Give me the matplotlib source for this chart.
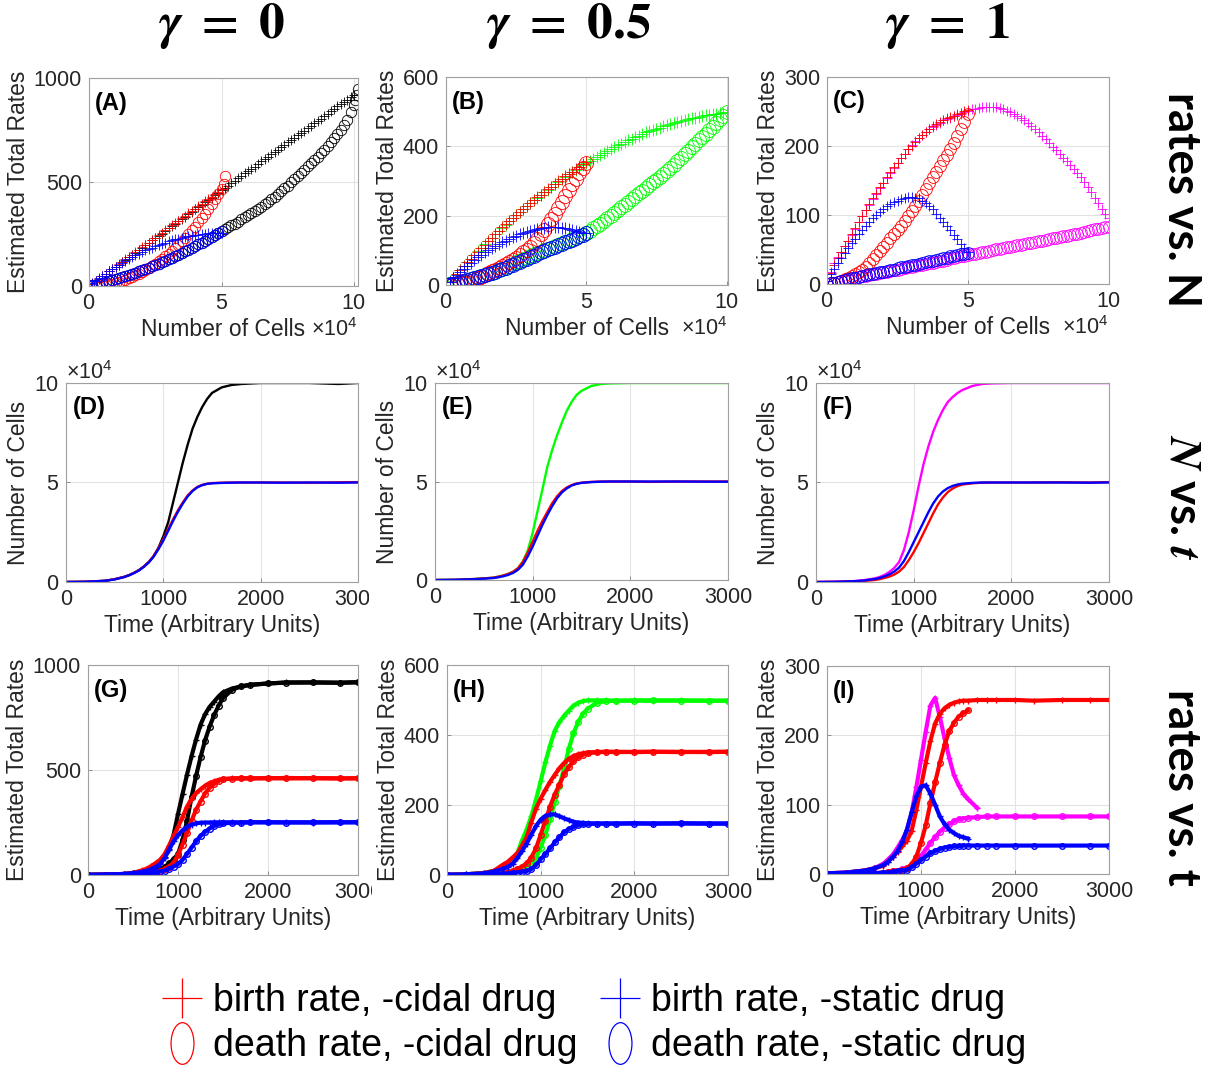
import matplotlib
matplotlib.use("Agg")
import matplotlib.pyplot as plt
from matplotlib.lines import Line2D
from matplotlib.path import Path
from matplotlib.transforms import Affine2D, Bbox, TransformedBbox
from matplotlib.ticker import ScalarFormatter
import numpy as np

plt.rcParams["font.family"] = "Liberation Sans"
plt.rcParams["mathtext.fontset"] = "custom"
plt.rcParams["mathtext.rm"] = "Liberation Sans"
plt.rcParams["mathtext.it"] = "Liberation Sans:italic"
plt.rcParams["mathtext.bf"] = "Liberation Sans:bold"

RED, BLUE = "#ff0000", "#0000ff"
BLACK, GREEN, MAGENTA = "#000000", "#00ff00", "#ff00ff"
TXT = "#262626"

# ---------------- rates vs. number of cells (cells in units of 1e4) ----------------
cells_half = [0, 0.125, 0.25, 0.375, 0.5, 0.625, 0.75, 0.875, 1.0, 1.125, 1.25, 1.375,
              1.5, 1.625, 1.75, 1.875, 2.0, 2.125, 2.25, 2.375, 2.5, 2.625, 2.75, 2.875,
              3.0, 3.125, 3.25, 3.375, 3.5, 3.625, 3.75, 3.875, 4.0, 4.125, 4.25, 4.375,
              4.5, 4.625, 4.75, 4.875, 5.0]
cells_full = cells_half + [5.125, 5.25, 5.375, 5.5, 5.625, 5.75, 5.875, 6.0, 6.125, 6.25,
                           6.375, 6.5, 6.625, 6.75, 6.875, 7.0, 7.125, 7.25, 7.375, 7.5,
                           7.625, 7.75, 7.875, 8.0, 8.125, 8.25, 8.375, 8.5, 8.625, 8.75,
                           8.875, 9.0, 9.125, 9.25, 9.375, 9.5, 9.625, 9.75, 9.875, 10.0]

# gamma = 0
a_birth_none = [0, 12, 24, 35, 46, 58, 70, 81, 92, 103, 114, 127, 139, 149, 160, 173, 185,
                195, 206, 219, 231, 241, 252, 265, 277, 287, 298, 311, 323, 333, 344, 357,
                369, 379, 390, 403, 415, 425, 436, 449, 461, 471, 482, 495, 507, 517, 528,
                541, 553, 563, 574, 587, 599, 609, 620, 633, 645, 655, 666, 679, 691, 701,
                712, 725, 737, 747, 758, 771, 783, 793, 804, 817, 829, 839, 850, 863, 875,
                885, 896, 908, 920]
a_death_none = [0, 3, 7, 11, 15, 19, 24, 28, 33, 38, 43, 48, 53, 58, 64, 70, 76, 82, 88, 94,
                101, 107, 114, 121, 129, 136, 143, 151, 159, 167, 175, 183, 192, 200, 209,
                218, 227, 236, 246, 254, 263, 273, 283, 291, 300, 310, 320, 330, 340, 350,
                360, 370, 381, 392, 403, 416, 430, 443, 456, 469, 483, 498, 513, 529, 545,
                560, 575, 590, 605, 621, 638, 655, 672, 691, 710, 731, 752, 776, 800, 835,
                870]
a_death_none_tail_cells = [10.05, 10.1, 10.15]
a_death_none_tail = [895, 920, 945]
a_birth_cidal = [0, 12, 23, 35, 47, 58, 70, 82, 93, 105, 116, 128, 140, 151, 163, 175, 186,
                 198, 209, 221, 233, 244, 256, 268, 279, 291, 302, 314, 326, 337, 349, 361,
                 372, 384, 395, 407, 419, 430, 442, 453, 465]
a_death_cidal = [0, 0, 1, 2, 4, 6, 9, 12, 16, 20, 25, 31, 37, 44, 51, 59, 67, 76, 86, 96,
                 107, 118, 130, 143, 156, 170, 184, 199, 215, 232, 249, 267, 286, 306, 326,
                 348, 370, 393, 416, 440, 465]
a_death_cidal_tail_cells = [5.1, 5.15]
a_death_cidal_tail = [490, 528]
a_birth_static = [0, 13, 25, 37, 49, 60, 71, 82, 92, 102, 112, 121, 130, 139, 147, 155, 163,
                  171, 178, 185, 191, 197, 203, 209, 214, 219, 224, 228, 232, 236, 239, 242,
                  245, 247, 249, 251, 253, 254, 254, 255, 255]
a_death_static = [0, 3, 7, 11, 15, 19, 24, 28, 33, 38, 43, 48, 53, 58, 64, 70, 76, 82, 88,
                  94, 101, 107, 114, 121, 129, 136, 143, 151, 159, 167, 175, 183, 192, 200,
                  209, 218, 227, 236, 246, 255, 265]

# gamma = 0.5
b_birth_none = [0, 11, 22, 33, 44, 55, 66, 76, 87, 97, 107, 117, 127, 136, 146, 155, 165,
                174, 184, 193, 202, 210, 219, 227, 236, 244, 252, 260, 268, 275, 283, 290,
                298, 305, 312, 319, 326, 332, 339, 345, 352, 358, 364, 370, 376, 381, 387,
                392, 398, 403, 408, 413, 418, 422, 427, 431, 435, 440, 444, 447, 451, 454,
                458, 461, 465, 468, 471, 473, 476, 478, 481, 483, 486, 488, 490, 491, 493,
                494, 496, 497, 499]
b_death_none = [0, 2, 4, 6, 8, 10, 13, 16, 19, 22, 25, 28, 31, 34, 38, 42, 46, 50, 55, 60,
                65, 70, 74, 79, 83, 88, 92, 96, 100, 104, 108, 112, 116, 120, 124, 128, 132,
                136, 140, 145, 150, 156, 163, 170, 177, 184, 192, 200, 208, 216, 224, 232,
                240, 248, 256, 264, 272, 280, 288, 296, 304, 312, 320, 329, 338, 347, 357,
                367, 377, 387, 397, 407, 417, 427, 437, 447, 457, 467, 478, 488, 499]
b_birth_cidal = [0, 10, 21, 32, 43, 54, 65, 75, 86, 96, 106, 116, 126, 136, 146, 156, 166,
                 175, 185, 194, 203, 212, 220, 228, 237, 245, 253, 261, 269, 276, 284, 291,
                 299, 306, 313, 320, 327, 334, 341, 348, 355]
b_death_cidal = [0, 1, 2, 3, 5, 7, 9, 12, 15, 19, 24, 29, 34, 39, 44, 49, 55, 60, 66, 72,
                 79, 86, 94, 102, 111, 122, 134, 147, 160, 175, 190, 206, 222, 240, 257, 274,
                 290, 306, 322, 337, 352]
b_birth_static = [0, 10, 20, 29, 38, 47, 56, 64, 72, 80, 87, 94, 100, 106, 112, 118, 123,
                  128, 133, 138, 142, 146, 150, 153, 156, 159, 161, 163, 165, 166, 167, 167,
                  166, 165, 163, 161, 158, 156, 153, 151, 150]
b_death_static = [0, 2, 4, 6, 9, 11, 14, 16, 19, 22, 25, 28, 31, 34, 38, 42, 46, 50, 54, 58,
                  63, 67, 72, 76, 81, 85, 90, 94, 99, 103, 107, 111, 115, 119, 123, 127, 131,
                  135, 140, 144, 149]

# gamma = 1
c_birth_none = [5, 18, 30, 39, 47, 55, 62, 71, 80, 90, 99, 107, 115, 123, 131, 139, 146,
                154, 161, 168, 175, 182, 189, 195, 201, 207, 212, 216, 220, 224, 228, 231,
                234, 237, 239, 241, 243, 245, 247, 249, 251, 253, 254, 255, 256, 257, 257,
                257, 256, 255, 253, 251, 249, 247, 244, 241, 237, 233, 229, 225, 220, 215,
                210, 205, 199, 194, 188, 183, 178, 173, 167, 161, 155, 148, 141, 133, 125,
                117, 109, 102, 95]
c_death_none = [0, 1, 2, 3, 4, 5, 6, 8, 9, 10, 11, 12, 13, 14, 15, 16, 17, 18, 19, 20, 21,
                22, 23, 24, 25, 26, 27, 28, 29, 30, 31, 32, 33, 34, 35, 37, 38, 39, 40, 41,
                42, 43, 44, 45, 46, 47, 48, 49, 50, 51, 52, 53, 54, 55, 56, 57, 58, 59, 60,
                61, 62, 63, 64, 65, 66, 67, 68, 69, 70, 71, 72, 73, 74, 76, 77, 78, 79, 80,
                81, 82, 83]
c_birth_cidal = [5, 16, 28, 37, 46, 55, 63, 72, 81, 90, 98, 107, 116, 124, 132, 140, 147,
                 155, 162, 169, 176, 183, 189, 195, 200, 206, 211, 216, 221, 225, 229, 232,
                 235, 238, 240, 242, 244, 246, 248, 250, 252]
c_death_cidal = [0, 1, 2, 3, 5, 7, 9, 11, 14, 17, 20, 25, 30, 36, 42, 48, 54, 60, 66, 72,
                 78, 84, 91, 98, 106, 113, 121, 129, 138, 146, 155, 163, 171, 179, 187, 195,
                 204, 214, 224, 235, 247]
c_birth_static = [5, 14, 22, 30, 38, 45, 52, 59, 65, 72, 78, 84, 90, 95, 100, 105, 109, 113,
                  116, 119, 121, 123, 125, 126, 126, 125, 124, 121, 118, 113, 108, 102, 96,
                  90, 84, 78, 71, 65, 58, 52, 46]
c_death_static = [0, 1, 2, 3, 5, 6, 7, 8, 9, 10, 11, 13, 14, 15, 16, 17, 18, 19, 20, 21, 23,
                  24, 25, 26, 27, 28, 29, 31, 32, 33, 34, 35, 36, 37, 38, 40, 41, 42, 43, 44,
                  45]

# ---------------- time courses ----------------
time = [0, 200, 400, 500, 600, 650, 700, 750, 800, 850, 900, 950, 1000, 1050, 1100, 1150,
        1200, 1250, 1300, 1350, 1400, 1450, 1500, 1600, 1700, 1800, 2000, 2200, 2500,
        2800, 3000]

# number of cells (1e4)
d_none = [0, 0.01, 0.06, 0.14, 0.26, 0.35, 0.46, 0.6, 0.78, 1.0, 1.3, 1.72, 2.3, 3.0, 4.0,
          5.0, 6.0, 6.9, 7.7, 8.3, 8.8, 9.2, 9.5, 9.78, 9.9, 9.95, 10.0, 10.0, 10.0, 9.95,
          10.0]
d_cidal = [0, 0.01, 0.06, 0.14, 0.26, 0.35, 0.46, 0.6, 0.78, 1.0, 1.3, 1.7, 2.15, 2.65,
           3.15, 3.6, 4.0, 4.35, 4.6, 4.78, 4.88, 4.94, 4.97, 4.99, 5.0, 5.0, 5.0, 5.0,
           4.99, 5.01, 5.02]
d_static = [0, 0.01, 0.06, 0.13, 0.25, 0.34, 0.45, 0.58, 0.76, 0.98, 1.27, 1.65, 2.08,
            2.57, 3.07, 3.53, 3.94, 4.3, 4.57, 4.76, 4.87, 4.93, 4.96, 4.98, 4.99, 5.0,
            5.0, 4.99, 5.0, 4.99, 5.0]
e_none = [0, 0.01, 0.05, 0.08, 0.12, 0.17, 0.23, 0.31, 0.42, 0.6, 0.95, 1.5, 2.4, 3.5,
          4.6, 5.75, 6.6, 7.35, 8.0, 8.6, 9.05, 9.4, 9.6, 9.85, 9.95, 9.98, 10.0, 10.0,
          10.0, 10.0, 10.0]
e_cidal = [0, 0.01, 0.05, 0.08, 0.12, 0.17, 0.23, 0.31, 0.42, 0.6, 0.92, 1.4, 1.95, 2.5,
           3.0, 3.45, 3.9, 4.25, 4.52, 4.7, 4.82, 4.9, 4.94, 4.98, 5.0, 5.0, 5.0, 4.98,
           5.0, 5.0, 5.0]
e_static = [0, 0.01, 0.04, 0.07, 0.1, 0.14, 0.19, 0.26, 0.36, 0.52, 0.78, 1.2, 1.7, 2.25,
            2.8, 3.3, 3.75, 4.15, 4.45, 4.65, 4.8, 4.88, 4.93, 4.97, 4.99, 5.0, 5.0, 5.0,
            5.0, 4.99, 4.99]
f_none = [0, 0.01, 0.05, 0.1, 0.18, 0.25, 0.35, 0.5, 0.7, 1.0, 1.6, 2.5, 3.6, 4.8, 5.9,
          6.8, 7.55, 8.15, 8.65, 9.05, 9.3, 9.5, 9.65, 9.85, 9.95, 9.98, 10.0, 10.0, 10.0,
          10.0, 10.0]
f_cidal = [0, 0.01, 0.03, 0.06, 0.1, 0.14, 0.2, 0.27, 0.37, 0.52, 0.75, 1.1, 1.5, 1.95,
           2.45, 2.95, 3.45, 3.9, 4.25, 4.52, 4.7, 4.82, 4.9, 4.96, 4.99, 5.0, 5.0, 5.0,
           5.01, 5.0, 5.02]
f_static = [0, 0.01, 0.04, 0.08, 0.15, 0.2, 0.28, 0.38, 0.52, 0.72, 1.05, 1.5, 2.0, 2.5,
            3.0, 3.5, 3.95, 4.3, 4.55, 4.72, 4.83, 4.9, 4.94, 4.98, 5.0, 5.0, 5.0, 5.0,
            5.0, 4.99, 5.0]

# estimated rates over time
g_birth_none = [1, 2, 5, 10, 18, 24, 32, 43, 58, 85, 125, 190, 290, 385, 478, 565, 645,
                715, 765, 800, 825, 850, 870, 888, 898, 905, 912, 917, 917, 915, 918]
g_death_none = [0, 1, 2, 4, 8, 11, 15, 20, 27, 38, 55, 75, 100, 165, 258, 370, 470, 560,
                640, 705, 760, 805, 842, 882, 898, 906, 912, 916, 917, 916, 918]
g_birth_cidal = [1, 2, 5, 10, 22, 30, 42, 56, 72, 98, 140, 185, 228, 275, 325, 362, 390,
                 408, 425, 438, 446, 453, 457, 460, 461, 460, 461, 462, 461, 460, 461]
g_death_cidal = [0, 0, 1, 2, 4, 6, 9, 14, 20, 29, 40, 58, 95, 145, 200, 258, 310, 350, 388,
                 415, 433, 450, 456, 459, 460, 460, 461, 460, 461, 460, 460]
g_birth_static = [1, 2, 5, 9, 15, 20, 27, 38, 52, 80, 120, 160, 190, 212, 230, 240, 246,
                  249, 250, 250, 251, 251, 251, 251, 250, 251, 251, 251, 250, 251, 251]
g_death_static = [0, 1, 2, 3, 5, 7, 9, 12, 16, 21, 30, 40, 52, 72, 100, 130, 160, 186,
                  205, 221, 233, 241, 246, 249, 250, 251, 251, 250, 251, 251, 251]

h_birth_none = [1, 2, 6, 12, 22, 30, 40, 62, 98, 130, 168, 215, 268, 322, 370, 412, 437,
                455, 470, 484, 492, 497, 499, 499, 499, 498, 499, 498, 499, 498, 498]
h_death_none = [0, 0, 1, 2, 4, 6, 9, 13, 18, 26, 34, 48, 78, 115, 160, 208, 255, 305, 360,
                405, 437, 460, 475, 492, 497, 498, 498, 499, 498, 498, 498]
h_birth_cidal = [1, 2, 6, 12, 30, 38, 50, 62, 84, 108, 150, 190, 218, 243, 266, 286, 305,
                 320, 332, 340, 345, 348, 350, 351, 352, 351, 352, 352, 351, 352, 352]
h_death_cidal = [0, 0, 1, 2, 5, 8, 12, 17, 24, 33, 50, 76, 115, 155, 195, 230, 258, 288,
                 308, 325, 336, 343, 348, 351, 352, 352, 351, 352, 352, 351, 352]
h_birth_static = [1, 2, 5, 10, 18, 24, 32, 48, 68, 90, 115, 140, 158, 169, 173, 173, 168,
                  162, 157, 152, 150, 149, 148, 147, 147, 147, 148, 147, 147, 147, 147]
h_death_static = [0, 0, 1, 2, 3, 4, 5, 7, 9, 11, 17, 28, 45, 60, 76, 93, 108, 122, 131,
                  137, 142, 145, 146, 147, 147, 147, 147, 147, 148, 147, 147]

i_birth_none = [1, 2, 5, 8, 15, 21, 28, 38, 49, 63, 88, 125, 165, 205, 243, 254, 227, 196,
                168, 143, 128, 116, 108, 95]
i_death_none = [0, 0, 1, 1, 2, 3, 4, 5, 7, 9, 13, 19, 26, 35, 45, 53, 61, 67, 72, 76, 79,
                80, 81, 82, 83, 83, 83, 83, 83, 83, 83]
i_birth_cidal = [1, 2, 5, 8, 12, 18, 25, 32, 40, 48, 62, 92, 126, 160, 192, 217, 231, 239,
                 244, 247, 249, 250, 250, 251, 251, 251, 251, 250, 251, 251, 251]
i_death_cidal = [0, 0, 0, 1, 2, 3, 4, 5, 6, 8, 14, 25, 45, 70, 102, 132, 160, 186, 206,
                 218, 227, 232, 236]
i_birth_static = [1, 2, 5, 8, 13, 18, 25, 33, 46, 64, 89, 112, 126, 128, 116, 100, 83, 72,
                  64, 59, 55, 53, 51]
i_death_static = [0, 0, 1, 1, 2, 2, 3, 4, 5, 6, 10, 15, 20, 25, 30, 33, 36, 38, 39, 40, 40,
                  41, 41, 41, 41, 41, 41, 41, 41, 41, 41]

column_titles = [r"$\mathbfit{\gamma}\ \mathbf{=}\ \mathbf{0}$",
                 r"$\mathbfit{\gamma}\ \mathbf{=}\ \mathbf{0.5}$",
                 r"$\mathbfit{\gamma}\ \mathbf{=}\ \mathbf{1}$"]
legend_labels = ["birth rate, -cidal drug", "death rate, -cidal drug",
                 "birth rate, -static drug", "death rate, -static drug"]

W, H = 1206, 1073
fig = plt.figure(figsize=(W / 100, H / 100), dpi=100)


def px_axes(x0, y0, x1, y1):
    return fig.add_axes([x0 / W, 1 - y1 / H, (x1 - x0) / W, (y1 - y0) / H])


def sci(axis):
    fmt = ScalarFormatter(useMathText=True)
    fmt.set_powerlimits((4, 4))
    axis.set_major_formatter(fmt)
    axis.get_offset_text().set_fontsize(15.5)
    axis.get_offset_text().set_color(TXT)


def finish(ax, letter, xlim, ylim, xticks, yticks, xlabel, ylabel):
    ax.set_xlim(*xlim)
    ax.set_ylim(*ylim)
    ax.set_xticks(xticks)
    ax.set_yticks(yticks)
    ax.set_xlabel(xlabel, fontsize=16.5, color=TXT, labelpad=3)
    ax.set_ylabel(ylabel, fontsize=16.5, color=TXT, labelpad=3)
    ax.tick_params(direction="in", length=3, width=0.6, labelsize=15.5,
                   labelcolor=TXT, color="#808080", pad=5)
    ax.grid(True, color="#e3e3e3", lw=0.8)
    ax.set_axisbelow(True)
    for s in ax.spines.values():
        s.set_color("#a0a0a0")
        s.set_linewidth(0.8)
    ax.text(0.022, 0.935, f"({letter})", transform=ax.transAxes, fontsize=17,
            fontweight="bold", va="top", ha="left")


def scatter_rate(ax, cells, rates, color, marker, ms):
    ax.plot(np.array(cells) * 1e4, rates, ls="none", marker=marker, ms=ms, mew=0.6,
            mfc="none", mec=color)


def time_rate(ax, rates, color, marker):
    n = len(rates)
    ax.plot(time[:n], rates, color=color, lw=3.0, marker=marker, ms=4, mew=1.0,
            mfc="none", mec=color)


def clip_last_xtick(ax, right_px):
    lab = ax.get_xticklabels()[-1]
    lab.set_clip_box(TransformedBbox(Bbox([[0, 0], [right_px / W, 1]]), fig.transFigure))
    lab.set_clip_on(True)


# ---- row 1: rates vs N ----
row1 = [
    (px_axes(89, 78, 358, 286), "A", 10.15, 1000, [0, 500, 1000], 7.2, 7.5,
     [(cells_full, a_birth_none, BLACK, "+"), (cells_full, a_death_none, BLACK, "o"),
      (a_death_none_tail_cells, a_death_none_tail, BLACK, "o"),
      (cells_half, a_birth_cidal, RED, "+"), (cells_half, a_death_cidal, RED, "o"),
      (a_death_cidal_tail_cells, a_death_cidal_tail, RED, "o"),
      (cells_half, a_birth_static, BLUE, "+"), (cells_half, a_death_static, BLUE, "o")]),
    (px_axes(446, 77, 728, 285), "B", 10.05, 600, [0, 200, 400, 600], 8, 10,
     [(cells_full, b_birth_none, GREEN, "+"), (cells_full, b_death_none, GREEN, "o"),
      (cells_half, b_birth_cidal, RED, "+"), (cells_half, b_death_cidal, RED, "o"),
      (cells_half, b_birth_static, BLUE, "+"), (cells_half, b_death_static, BLUE, "o")]),
    (px_axes(827, 77, 1109, 284), "C", 10.0, 300, [0, 100, 200, 300], 7.5, 8.5,
     [(cells_full, c_birth_none, MAGENTA, "+"), (cells_full, c_death_none, MAGENTA, "o"),
      (cells_half, c_birth_cidal, RED, "+"), (cells_half, c_death_cidal, RED, "o"),
      (cells_half, c_birth_static, BLUE, "+"), (cells_half, c_death_static, BLUE, "o")]),
]
for ax, letter, xmax, ymax, yticks, ms_plus, ms_o, series in row1:
    for cells, rates, color, marker in series:
        scatter_rate(ax, cells, rates, color, marker, ms_plus if marker == "+" else ms_o)
    finish(ax, letter, (0, xmax * 1e4), (0, ymax), [0, 5e4, 1e5], yticks,
           "Number of Cells", "Estimated Total Rates")
    sci(ax.xaxis)

# ---- row 2: N vs t ----
row2 = [
    (px_axes(66, 383, 358, 582), "D", [(d_none, BLACK), (d_cidal, RED), (d_static, BLUE)]),
    (px_axes(435, 383, 728, 580), "E", [(e_none, GREEN), (e_cidal, RED), (e_static, BLUE)]),
    (px_axes(816, 383, 1109, 582), "F", [(f_none, MAGENTA), (f_cidal, RED), (f_static, BLUE)]),
]
for ax, letter, series in row2:
    for cells, color in series:
        ax.plot(time, np.array(cells) * 1e4, color=color, lw=1.7)
    finish(ax, letter, (0, 3000), (0, 1e5), [0, 1000, 2000, 3000], [0, 5e4, 1e5],
           "Time (Arbitrary Units)", "Number of Cells")
    sci(ax.yaxis)

# ---- row 3: rates vs t ----
row3 = [
    (px_axes(88, 665, 358, 875), "G", 1000, [0, 500, 1000], BLACK,
     [g_birth_none, g_death_none, g_birth_cidal, g_death_cidal, g_birth_static, g_death_static]),
    (px_axes(447, 665, 728, 875), "H", 600, [0, 200, 400, 600], GREEN,
     [h_birth_none, h_death_none, h_birth_cidal, h_death_cidal, h_birth_static, h_death_static]),
    (px_axes(827, 666, 1109, 874), "I", 300, [0, 100, 200, 300], MAGENTA,
     [i_birth_none, i_death_none, i_birth_cidal, i_death_cidal, i_birth_static, i_death_static]),
]
for ax, letter, ymax, yticks, base, series in row3:
    colors = [base, base, RED, RED, BLUE, BLUE]
    markers = ["+", "o", "+", "o", "+", "o"]
    for rates, color, marker in zip(series, colors, markers):
        time_rate(ax, rates, color, marker)
    finish(ax, letter, (0, 3000), (0, ymax), [0, 1000, 2000, 3000], yticks,
           "Time (Arbitrary Units)", "Estimated Total Rates")

clip_last_xtick(row2[0][0], 369)
clip_last_xtick(row3[0][0], 372)

# ---- column titles and row labels ----
for x, title in zip([222, 569, 948], column_titles):
    fig.text(x / W, 1 - 26 / H, title, fontsize=37, ha="center", va="center",
             math_fontfamily="stix")

row_label = dict(rotation=-90, ha="center", va="center", family="Lato",
                 weight="bold", fontsize=33, math_fontfamily="stix")
fig.text(1181 / W, 1 - 200 / H, "rates vs. N", **row_label)
fig.text(1183 / W, 1 - 497 / H, r"$\mathbfit{N}$ vs. $\mathbfit{t}$", **row_label)
fig.text(1181 / W, 1 - 787 / H, "rates vs. t", **row_label)

# ---- legend ----
ellipse = Path.unit_circle().transformed(Affine2D().scale(0.55, 1.0))
handles = [
    Line2D([], [], ls="none", marker="+", ms=29, mew=0.9, color=RED),
    Line2D([], [], ls="none", marker=ellipse, ms=30, mew=0.9, mfc="none", mec=RED),
    Line2D([], [], ls="none", marker="+", ms=29, mew=0.9, color=BLUE),
    Line2D([], [], ls="none", marker=ellipse, ms=30, mew=0.9, mfc="none", mec=BLUE),
]
fig.legend(handles, legend_labels, loc="upper left", bbox_to_anchor=(162 / W, 1 - 983 / H),
           ncol=2, frameon=False, fontsize=27, handlelength=1.05, handletextpad=0.3,
           columnspacing=0.62, labelspacing=0.25, borderpad=0, borderaxespad=0)

fig.savefig("out.png", dpi=100, facecolor="white")
